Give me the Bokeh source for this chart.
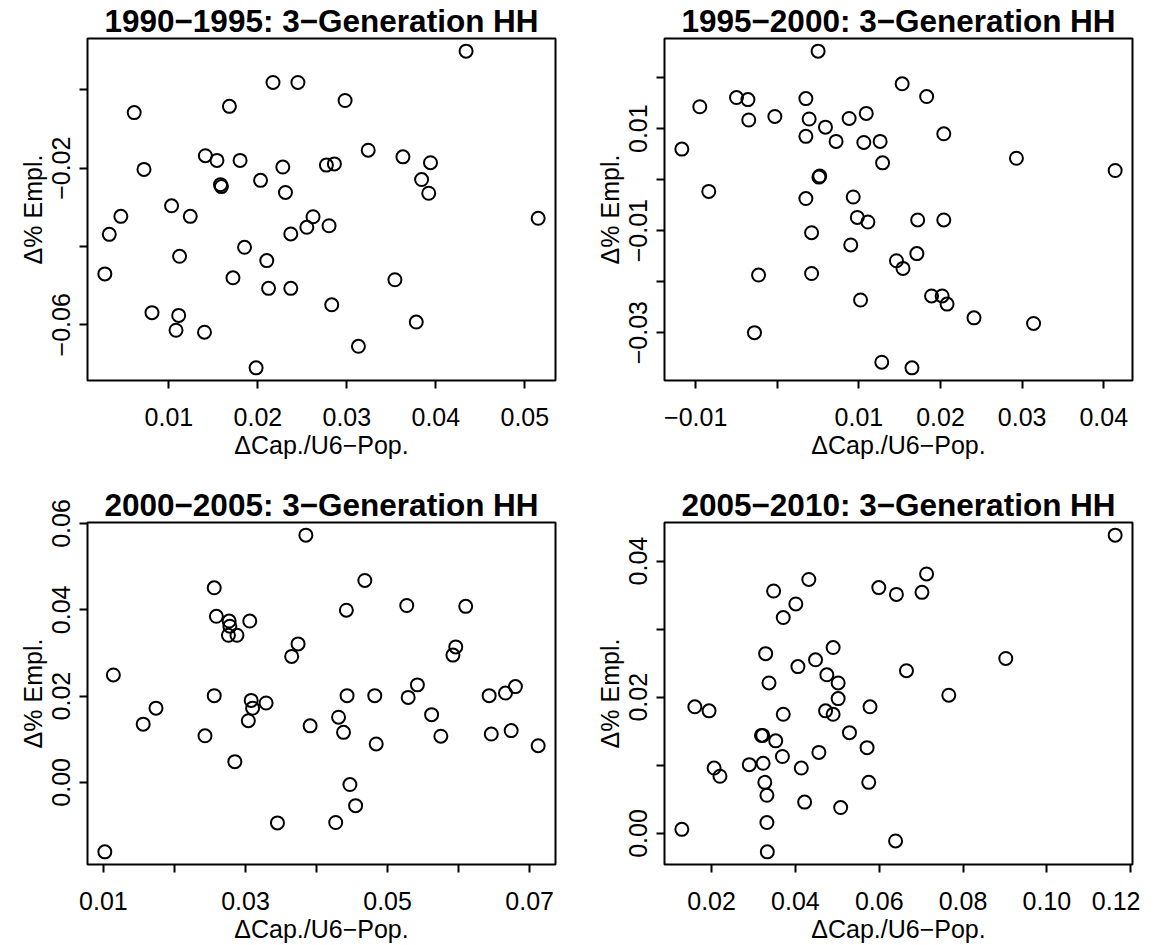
from bokeh.plotting import figure
from bokeh.models import Range1d, FixedTicker, CustomJSTickFormatter
from bokeh.layouts import column, row
from bokeh.embed import file_html
from bokeh.resources import INLINE

FONT = "Liberation Sans"

# ---------------- data ----------------
title_1990 = "1990\u22121995: 3\u2212Generation HH"
x_1990 = [0.0217, 0.0245, 0.0061, 0.0168, 0.0141, 0.0154, 0.0180, 0.0072, 0.0158, 0.0159,
          0.0203, 0.0228, 0.0231, 0.0277, 0.0286, 0.0046, 0.0033, 0.0103, 0.0124, 0.0262,
          0.0255, 0.0237, 0.0280, 0.0185, 0.0112, 0.0210, 0.0028, 0.0172, 0.0212, 0.0237,
          0.0283, 0.0081, 0.0111, 0.0108, 0.0140, 0.0198, 0.0434, 0.0298, 0.0324, 0.0363,
          0.0394, 0.0384, 0.0392, 0.0515, 0.0354, 0.0378, 0.0313]
y_1990 = [0.0019, 0.0019, -0.0058, -0.0042, -0.0168, -0.0180, -0.0180, -0.0203, -0.0242, -0.0247,
          -0.0231, -0.0197, -0.0262, -0.0192, -0.0189, -0.0323, -0.0369, -0.0296, -0.0323, -0.0324,
          -0.0351, -0.0368, -0.0347, -0.0402, -0.0425, -0.0436, -0.0470, -0.0480, -0.0507, -0.0507,
          -0.0549, -0.0569, -0.0576, -0.0614, -0.0619, -0.0710, 0.0099, -0.0027, -0.0154, -0.0171,
          -0.0186, -0.0229, -0.0264, -0.0328, -0.0485, -0.0593, -0.0655]
xticks_1990 = [0.01, 0.02, 0.03, 0.04, 0.05]
xticks_1990_unlabeled = []
yticks_1990 = [-0.02, -0.06]
yticks_1990_unlabeled = [0.0, -0.04]

title_1995 = "1995\u22122000: 3\u2212Generation HH"
x_1995 = [0.0050, 0.0153, -0.0095, -0.0050, -0.0036, 0.0035, -0.0035, -0.0003, 0.0039, 0.0109,
          0.0088, 0.0059, 0.0035, 0.0072, 0.0106, 0.0126, -0.0117, 0.0129, 0.0052, 0.0051,
          -0.0084, 0.0035, 0.0093, 0.0098, 0.0111, 0.0042, 0.0090, 0.0146, 0.0154, -0.0023,
          0.0042, 0.0102, -0.0028, 0.0128, 0.0165, 0.0183, 0.0204, 0.0293, 0.0414, 0.0172,
          0.0204, 0.0171, 0.0189, 0.0202, 0.0208, 0.0241, 0.0314]
y_1995 = [0.0252, 0.0188, 0.0143, 0.0161, 0.0157, 0.0159, 0.0117, 0.0124, 0.0119, 0.0130,
          0.0120, 0.0103, 0.0085, 0.0075, 0.0073, 0.0075, 0.0060, 0.0033, 0.0007, 0.0005,
          -0.0023, -0.0037, -0.0034, -0.0074, -0.0083, -0.0104, -0.0128, -0.0159, -0.0174, -0.0187,
          -0.0184, -0.0236, -0.0300, -0.0358, -0.0369, 0.0163, 0.0090, 0.0042, 0.0018, -0.0079,
          -0.0079, -0.0145, -0.0228, -0.0228, -0.0244, -0.0271, -0.0282]
xticks_1995 = [-0.01, 0.01, 0.02, 0.03, 0.04]
xticks_1995_unlabeled = [0.0]
yticks_1995 = [0.01, -0.01, -0.03]
yticks_1995_unlabeled = [0.02, 0.0, -0.02]

title_2000 = "2000\u22122005: 3\u2212Generation HH"
x_2000 = [0.0385, 0.0256, 0.0259, 0.0277, 0.0278, 0.0276, 0.0288, 0.0306, 0.0374, 0.0365,
          0.0114, 0.0256, 0.0308, 0.0310, 0.0329, 0.0174, 0.0156, 0.0304, 0.0391, 0.0243,
          0.0285, 0.0345, 0.0102, 0.0427, 0.0468, 0.0442, 0.0527, 0.0610, 0.0596, 0.0592,
          0.0542, 0.0443, 0.0482, 0.0529, 0.0643, 0.0666, 0.0680, 0.0431, 0.0438, 0.0484,
          0.0562, 0.0575, 0.0646, 0.0674, 0.0712, 0.0447, 0.0455]
y_2000 = [0.0573, 0.0451, 0.0385, 0.0374, 0.0362, 0.0341, 0.0341, 0.0374, 0.0321, 0.0292,
          0.0249, 0.0201, 0.0190, 0.0172, 0.0184, 0.0172, 0.0135, 0.0143, 0.0131, 0.0108,
          0.0048, -0.0094, -0.0161, -0.0093, 0.0468, 0.0399, 0.0410, 0.0408, 0.0314, 0.0295,
          0.0226, 0.0201, 0.0201, 0.0197, 0.0201, 0.0207, 0.0222, 0.0151, 0.0116, 0.0089,
          0.0157, 0.0107, 0.0112, 0.0120, 0.0085, -0.0005, -0.0054]
xticks_2000 = [0.01, 0.03, 0.05, 0.07]
xticks_2000_unlabeled = [0.02, 0.04, 0.06]
yticks_2000 = [0.0, 0.02, 0.04, 0.06]
yticks_2000_unlabeled = []

title_2005 = "2005\u22122010: 3\u2212Generation HH"
x_2005 = [0.0432, 0.0348, 0.0401, 0.0371, 0.0599, 0.0641, 0.0329, 0.0490, 0.0448, 0.0406,
          0.0665, 0.0475, 0.0502, 0.0337, 0.0502, 0.0160, 0.0194, 0.0371, 0.0472, 0.0490,
          0.0578, 0.0319, 0.0322, 0.0353, 0.0529, 0.0571, 0.0456, 0.0369, 0.0206, 0.0220,
          0.0290, 0.0323, 0.0414, 0.0327, 0.0332, 0.0575, 0.0422, 0.0508, 0.0129, 0.0332,
          0.0333, 0.0639, 0.1163, 0.0713, 0.0702, 0.0902, 0.0766]
y_2005 = [0.0373, 0.0356, 0.0337, 0.0317, 0.0361, 0.0351, 0.0264, 0.0273, 0.0255, 0.0245,
          0.0239, 0.0233, 0.0221, 0.0221, 0.0198, 0.0186, 0.0180, 0.0175, 0.0180, 0.0175,
          0.0186, 0.0144, 0.0144, 0.0136, 0.0148, 0.0126, 0.0119, 0.0113, 0.0096, 0.0084,
          0.0101, 0.0103, 0.0096, 0.0075, 0.0056, 0.0075, 0.0046, 0.0038, 0.0006, 0.0016,
          -0.0027, -0.0011, 0.0438, 0.0381, 0.0354, 0.0257, 0.0203]
xticks_2005 = [0.02, 0.04, 0.06, 0.08, 0.10, 0.12]
xticks_2005_unlabeled = []
yticks_2005 = [0.0, 0.02, 0.04]
yticks_2005_unlabeled = [0.01, 0.03]

x_label = "\u0394Cap./U6\u2212Pop."
y_label = "\u0394% Empl."

# ---------------- helpers ----------------
FMT_CODE = "return tick.toFixed(2).replace('-', '\u2212');"


def padded(vals):
    lo, hi = min(vals), max(vals)
    r = hi - lo
    return lo - 0.04 * r, hi + 0.04 * r


def style_axis(ax, ticks, minor):
    ax.ticker = FixedTicker(ticks=ticks, minor_ticks=minor)
    ax.formatter = CustomJSTickFormatter(code=FMT_CODE)
    ax.axis_line_color = None
    ax.major_tick_line_color = "black"
    ax.major_tick_line_width = 2
    ax.major_tick_out = 8
    ax.major_tick_in = 0
    ax.minor_tick_line_color = "black"
    ax.minor_tick_line_width = 2
    ax.minor_tick_out = 8
    ax.minor_tick_in = 0
    ax.major_label_text_font = FONT
    ax.major_label_text_font_size = "25px"
    ax.major_label_text_color = "black"
    ax.axis_label_text_font = FONT
    ax.axis_label_text_font_size = "25px"
    ax.axis_label_text_font_style = "normal"
    ax.axis_label_text_color = "black"


def make_panel(title, xs, ys, xt, xtm, yt, ytm, bl, br, bt, bb):
    x0, x1 = padded(xs)
    y0, y1 = padded(ys)
    p = figure(frame_width=468, frame_height=342,
               x_range=Range1d(x0, x1), y_range=Range1d(y0, y1),
               output_backend="svg", toolbar_location=None,
               min_border_left=bl, min_border_right=br,
               min_border_top=bt, min_border_bottom=bb,
               x_axis_label=x_label, y_axis_label=y_label,
               title=title)
    p.background_fill_color = "white"
    p.border_fill_color = "white"
    p.outline_line_color = "black"
    p.outline_line_width = 2
    p.xgrid.grid_line_color = None
    p.ygrid.grid_line_color = None

    p.title.align = "center"
    p.title.text_font = FONT
    p.title.text_font_size = "31.5px"
    p.title.text_font_style = "bold"
    p.title.text_color = "black"
    p.title.standoff = 0
    p.title.offset = 0

    style_axis(p.xaxis[0], xt, xtm)
    style_axis(p.yaxis[0], yt, ytm)
    p.xaxis[0].major_label_standoff = 19
    p.xaxis[0].axis_label_standoff = 2
    p.yaxis[0].major_label_orientation = "parallel"
    p.yaxis[0].major_label_standoff = 9
    p.yaxis[0].axis_label_standoff = 3

    p.scatter(xs, ys, marker="circle", size=13, fill_color=None,
              line_color="black", line_width=2)
    return p


p1 = make_panel(title_1990, x_1990, y_1990, xticks_1990, xticks_1990_unlabeled,
                yticks_1990, yticks_1990_unlabeled, 87, 31, 37, 100)
p2 = make_panel(title_1995, x_1995, y_1995, xticks_1995, xticks_1995_unlabeled,
                yticks_1995, yticks_1995_unlabeled, 78, 8, 37, 100)
p3 = make_panel(title_2000, x_2000, y_2000, xticks_2000, xticks_2000_unlabeled,
                yticks_2000, yticks_2000_unlabeled, 87, 31, 42, 60)
p4 = make_panel(title_2005, x_2005, y_2005, xticks_2005, xticks_2005_unlabeled,
                yticks_2005, yticks_2005_unlabeled, 78, 8, 42, 60)

layout = column(row(p1, p2), row(p3, p4))

with open("out.html", "w") as f:
    f.write(file_html(layout, INLINE))
